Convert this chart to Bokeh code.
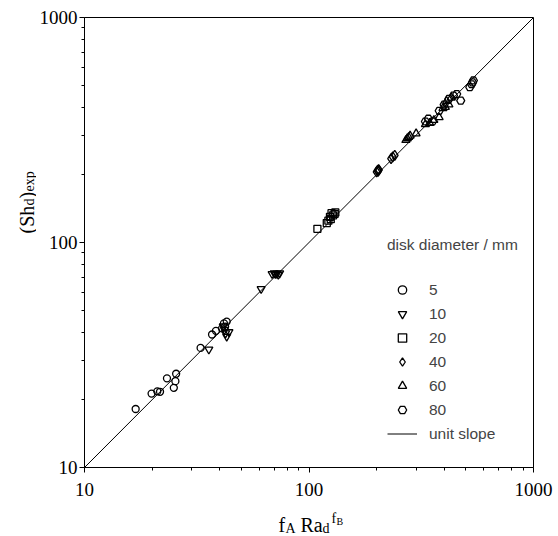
import numpy as np
from bokeh.plotting import figure
from bokeh.layouts import column, row
from bokeh.models import Legend, LegendItem, FixedTicker, PrintfTickFormatter, Label
from bokeh.embed import file_html
from bokeh.resources import INLINE

# ---- data ----
major_ticks = [10, 100, 1000]
minor_ticks = [20, 30, 40, 50, 60, 70, 80, 90, 200, 300, 400, 500, 600, 700, 800, 900]

d5_x = [16.9, 19.9, 21.1, 21.7, 23.3, 25.6, 25.4, 25.0, 32.9, 37.0, 38.5, 41.8, 42.3, 43.0, 41.0]
d5_y = [18.2, 21.3, 21.8, 21.7, 24.9, 26.1, 24.2, 22.6, 34.0, 39.0, 40.5, 43.7, 42.3, 44.5, 41.5]

d10_x = [35.8, 42.0, 42.5, 43.0, 41.5, 44.0, 61.2, 68.5, 70.0, 71.0, 72.0, 73.0, 74.0]
d10_y = [33.5, 41.0, 39.5, 38.2, 42.5, 40.0, 62.2, 72.5, 73.0, 72.5, 72.8, 72.0, 73.0]

d20_x = [109, 120, 122, 124, 126, 128, 130, 131, 125]
d20_y = [115, 122, 125, 130, 135, 132, 134, 136, 127]

d40_x = [200, 202, 204, 203, 205, 232, 236, 241]
d40_y = [206, 209, 211, 207, 210, 236, 240, 244]

d60_x = [270, 274, 278, 282, 300, 330, 345, 360, 380, 395, 405, 420, 410, 430]
d60_y = [285, 290, 294, 298, 305, 335, 340, 350, 360, 395, 400, 410, 425, 440]

d80_x = [330, 340, 355, 380, 400, 420, 440, 455, 474, 520, 530, 535, 540]
d80_y = [345, 355, 345, 385, 410, 435, 450, 457, 427, 490, 505, 515, 525]

line_x = [10, 1000]
line_y = [10, 1000]

legend_labels = ["5", "10", "20", "40", "60", "80", "unit slope"]
legend_title = "disk diameter / mm"

SERIF = "Liberation Serif"
SANS = "Liberation Sans"


def blank(width, height):
    f = figure(width=width, height=height, x_range=(0, width), y_range=(0, height),
               min_border=0, x_axis_location=None, y_axis_location=None,
               output_backend="svg", toolbar_location=None)
    f.xgrid.visible = False
    f.ygrid.visible = False
    f.outline_line_color = None
    return f


def add_text(f, x, y, text, size, angle=0.0):
    f.add_layout(Label(x=x, y=y, x_units="screen", y_units="screen", text=text,
                       text_font=SERIF, text_font_size=size, text_color="black",
                       angle=angle, text_baseline="alphabetic", text_align="left"))


# ---- main figure ----
p = figure(x_axis_type="log", y_axis_type="log", x_range=(10, 1000), y_range=(10, 1000),
           width=522, height=507, min_border_left=47, min_border_right=25,
           min_border_top=17, min_border_bottom=40,
           output_backend="svg", toolbar_location=None)
p.xgrid.visible = False
p.ygrid.visible = False
p.outline_line_color = "black"
p.outline_line_width = 1
p.outline_line_alpha = 1

for ax in (p.xaxis[0], p.yaxis[0]):
    ax.ticker = FixedTicker(ticks=major_ticks, minor_ticks=minor_ticks)
    ax.formatter = PrintfTickFormatter(format="%d")
    ax.major_tick_in = 0
    ax.major_tick_out = 5
    ax.minor_tick_in = 0
    ax.minor_tick_out = 3
    ax.axis_line_color = "black"
    ax.major_tick_line_color = "black"
    ax.minor_tick_line_color = "black"
    ax.major_label_text_font = SERIF
    ax.major_label_text_font_size = "19px"
    ax.major_label_text_color = "black"
p.yaxis[0].major_label_standoff = 2
p.xaxis[0].major_label_standoff = 10

line_r = p.line(line_x, line_y, line_color="black", line_width=1)

style = dict(line_color="black", line_width=1.3, fill_alpha=0)
r5 = p.scatter(d5_x, d5_y, marker="circle", size=7, **style)
r10 = p.scatter(d10_x, d10_y, marker="inverted_triangle", size=8, **style)
r20 = p.scatter(d20_x, d20_y, marker="square", size=7, **style)
r40 = p.scatter(d40_x, d40_y, marker="diamond", size=10, **style)
r60 = p.scatter(d60_x, d60_y, marker="triangle", size=8, **style)
r80 = p.scatter(d80_x, d80_y, marker="hex", size=8, **style)

renderers = [r5, r10, r20, r40, r60, r80, line_r]
items = [LegendItem(label=l, renderers=[r]) for l, r in zip(legend_labels, renderers)]
legend = Legend(items=items, location=(303, 23), title=legend_title,
                title_text_font=SANS, title_text_font_size="15.5px",
                title_text_font_style="normal", title_standoff=25,
                label_text_font=SANS, label_text_font_size="15.5px",
                glyph_width=30, glyph_height=21, label_height=21, spacing=3,
                label_standoff=12, padding=0, margin=0,
                border_line_color=None, background_fill_alpha=0)
p.add_layout(legend, "center")

# ---- y axis label panel: (Sh_d)_exp ----
fy = blank(36, 507)
ys = 234
xm = 26
add_text(fy, xm, ys, "(Sh", "20px", np.pi / 2)
add_text(fy, xm + 3, ys + 28, "d", "14px", np.pi / 2)
add_text(fy, xm, ys + 35, ")", "20px", np.pi / 2)
add_text(fy, xm + 3, ys + 42, "exp", "14px", np.pi / 2)

# ---- x axis label panel: f_A Ra_d^{f_B} ----
fx = blank(558, 29)
yb = 12
add_text(fx, 278, yb, "f", "20px")
add_text(fx, 285, yb - 4, "A", "14px")
add_text(fx, 300, yb, "Ra", "20px")
add_text(fx, 322, yb - 4, "d", "14px")
add_text(fx, 331, yb + 6, "f", "14px")
add_text(fx, 336, yb + 3, "B", "10px")

layout = column(row(fy, p, spacing=0), fx, spacing=0)
open("out.html", "w").write(file_html(layout, INLINE))
